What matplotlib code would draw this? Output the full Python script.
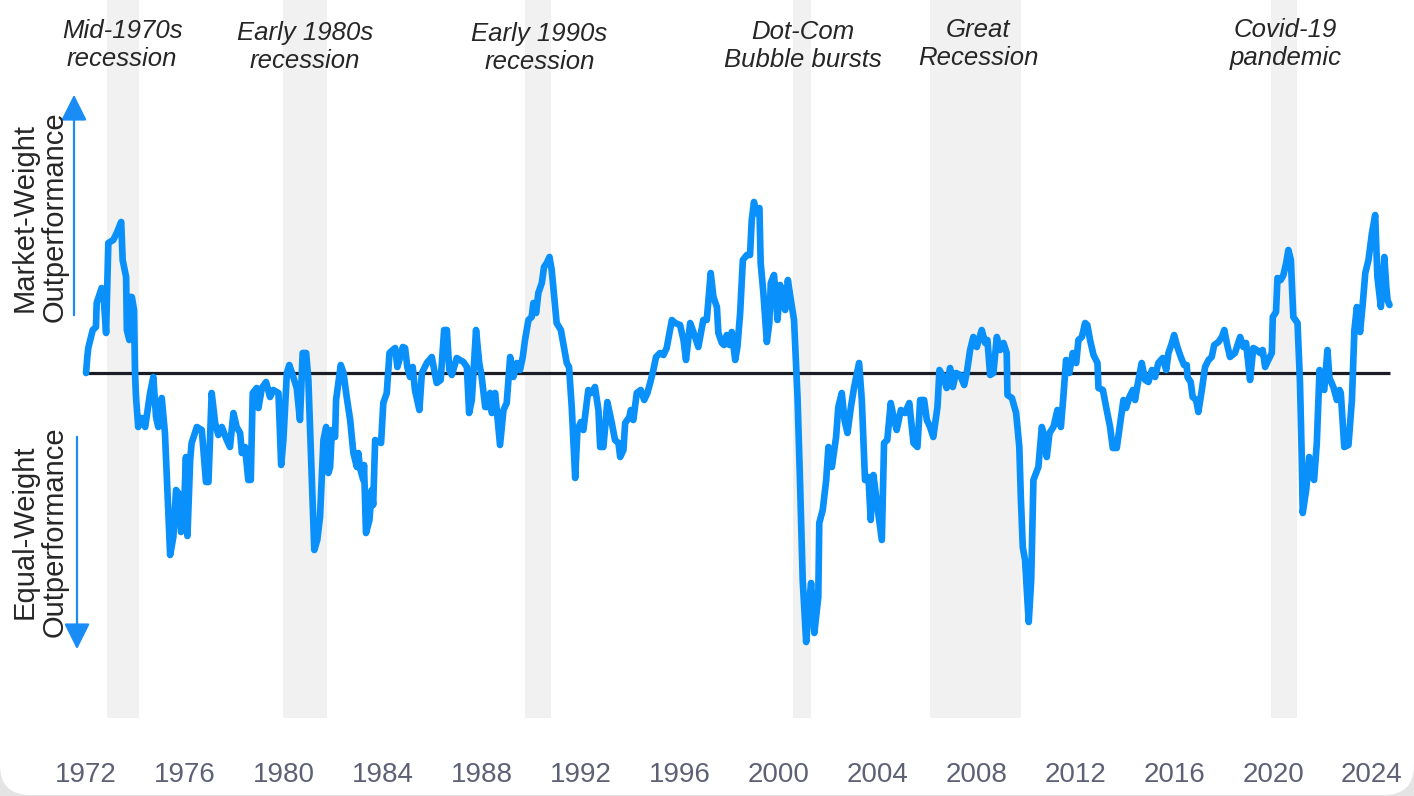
import matplotlib
matplotlib.use("Agg")
import matplotlib.pyplot as plt
from matplotlib.patches import FancyBboxPatch, FancyArrowPatch
from matplotlib.transforms import IdentityTransform

plt.rcParams['font.family'] = ['Liberation Sans', 'DejaVu Sans']

# relative performance, market-weight vs equal-weight (decimal year, value)
years = [
    1972.00, 1972.05, 1972.09, 1972.27, 1972.40, 1972.43, 1972.63, 1972.70, 1972.81, 1972.90,
    1973.10, 1973.24, 1973.42, 1973.48, 1973.62, 1973.65, 1973.75, 1973.78, 1973.85, 1973.94,
    1973.98, 1974.02, 1974.11, 1974.25, 1974.39, 1974.59, 1974.72, 1974.83, 1974.92, 1975.06,
    1975.19, 1975.40, 1975.53, 1975.64, 1975.73, 1975.84, 1975.93, 1976.04, 1976.10, 1976.21,
    1976.27, 1976.48, 1976.68, 1976.85, 1976.95, 1977.08, 1977.22, 1977.35, 1977.49, 1977.69,
    1977.82, 1977.96, 1978.09, 1978.23, 1978.30, 1978.43, 1978.56, 1978.66, 1978.74, 1978.90,
    1978.97, 1979.11, 1979.28, 1979.44, 1979.57, 1979.78, 1979.89, 1979.98, 1980.12, 1980.22,
    1980.38, 1980.52, 1980.65, 1980.76, 1980.90, 1980.99, 1981.13, 1981.23, 1981.35, 1981.46,
    1981.60, 1981.71, 1981.80, 1981.87, 1981.94, 1982.07, 1982.11, 1982.30, 1982.41, 1982.54,
    1982.68, 1982.81, 1982.95, 1983.01, 1983.08, 1983.21, 1983.24, 1983.32, 1983.46, 1983.55,
    1983.61, 1983.69, 1983.93, 1984.02, 1984.16, 1984.27, 1984.40, 1984.50, 1984.59, 1984.70,
    1984.81, 1984.90, 1984.99, 1985.10, 1985.21, 1985.30, 1985.48, 1985.58, 1985.78, 1985.98,
    1986.18, 1986.34, 1986.48, 1986.59, 1986.69, 1986.79, 1986.85, 1986.99, 1987.12, 1987.26,
    1987.40, 1987.49, 1987.60, 1987.77, 1987.90, 1988.00, 1988.14, 1988.23, 1988.34, 1988.41,
    1988.54, 1988.61, 1988.74, 1988.88, 1989.01, 1989.15, 1989.28, 1989.42, 1989.55, 1989.66,
    1989.75, 1989.89, 1990.02, 1990.09, 1990.20, 1990.29, 1990.43, 1990.52, 1990.63, 1990.74,
    1990.83, 1991.03, 1991.20, 1991.44, 1991.53, 1991.64, 1991.78, 1991.87, 1992.01, 1992.11,
    1992.31, 1992.45, 1992.58, 1992.72, 1992.79, 1992.92, 1993.08, 1993.26, 1993.39, 1993.53,
    1993.60, 1993.73, 1993.80, 1993.97, 1994.03, 1994.13, 1994.27, 1994.43, 1994.57, 1994.70,
    1994.81, 1994.94, 1995.05, 1995.21, 1995.35, 1995.48, 1995.69, 1995.82, 1996.02, 1996.16,
    1996.26, 1996.43, 1996.63, 1996.76, 1996.96, 1997.10, 1997.26, 1997.37, 1997.51, 1997.57,
    1997.71, 1997.80, 1997.91, 1998.02, 1998.11, 1998.25, 1998.34, 1998.45, 1998.56, 1998.72,
    1998.85, 1998.92, 1999.01, 1999.09, 1999.23, 1999.28, 1999.39, 1999.53, 1999.63, 1999.69,
    1999.82, 1999.96, 2000.07, 2000.17, 2000.27, 2000.38, 2000.50, 2000.63, 2000.77, 2000.87,
    2000.98, 2001.12, 2001.21, 2001.32, 2001.45, 2001.61, 2001.65, 2001.79, 2001.93, 2002.02,
    2002.16, 2002.33, 2002.42, 2002.56, 2002.67, 2002.79, 2002.93, 2003.06, 2003.26, 2003.37,
    2003.50, 2003.64, 2003.73, 2003.84, 2003.95, 2004.18, 2004.27, 2004.40, 2004.54, 2004.68,
    2004.78, 2004.95, 2005.12, 2005.29, 2005.46, 2005.62, 2005.73, 2005.89, 2006.00, 2006.13,
    2006.26, 2006.43, 2006.51, 2006.67, 2006.80, 2006.94, 2007.05, 2007.18, 2007.35, 2007.51,
    2007.62, 2007.75, 2007.88, 2008.02, 2008.22, 2008.36, 2008.45, 2008.56, 2008.69, 2008.83,
    2008.96, 2009.10, 2009.23, 2009.26, 2009.44, 2009.61, 2009.74, 2009.80, 2009.88, 2009.97,
    2010.12, 2010.22, 2010.31, 2010.42, 2010.51, 2010.65, 2010.71, 2010.85, 2010.96, 2011.12,
    2011.28, 2011.42, 2011.52, 2011.63, 2011.76, 2011.90, 2012.04, 2012.13, 2012.27, 2012.40,
    2012.49, 2012.60, 2012.74, 2012.90, 2012.94, 2013.12, 2013.25, 2013.41, 2013.52, 2013.68,
    2013.82, 2013.95, 2014.06, 2014.19, 2014.33, 2014.42, 2014.52, 2014.69, 2014.83, 2014.96,
    2015.10, 2015.23, 2015.36, 2015.54, 2015.68, 2015.77, 2015.91, 2016.00, 2016.13, 2016.27,
    2016.40, 2016.51, 2016.54, 2016.67, 2016.75, 2016.89, 2016.98, 2017.12, 2017.25, 2017.39,
    2017.52, 2017.62, 2017.79, 2017.93, 2018.03, 2018.13, 2018.26, 2018.46, 2018.67, 2018.80,
    2018.91, 2019.07, 2019.20, 2019.34, 2019.47, 2019.58, 2019.68, 2019.81, 2019.95, 2019.99,
    2020.12, 2020.18, 2020.31, 2020.42, 2020.53, 2020.62, 2020.72, 2020.82, 2020.99, 2021.09,
    2021.16, 2021.20, 2021.34, 2021.46, 2021.59, 2021.66, 2021.77, 2021.88, 2022.01, 2022.07,
    2022.20, 2022.28, 2022.44, 2022.58, 2022.69, 2022.74, 2022.88, 2023.05, 2023.19, 2023.29,
    2023.39, 2023.52, 2023.63, 2023.73, 2023.86, 2024.00, 2024.13, 2024.22, 2024.36, 2024.50,
    2024.58, 2024.63, 2024.71,
]
values = [
    0.0, 1.6, 2.5, 4.3, 4.6, 7.0, 8.5, 8.0, 4.0, 13.0,
    13.3, 14.0, 15.1, 11.3, 9.6, 4.3, 3.3, 7.6, 7.6, 6.3,
    0.0, -2.4, -5.4, -4.5, -5.4, -2.0, -0.4, -4.4, -5.4, -2.5,
    -6.0, -18.2, -16.4, -11.7, -12.0, -15.9, -15.7, -8.4, -16.3, -8.7,
    -7.0, -5.4, -5.7, -10.9, -10.9, -2.0, -5.0, -6.2, -5.4, -6.7,
    -7.4, -4.0, -5.4, -6.0, -8.0, -7.4, -10.7, -10.7, -2.0, -1.5,
    -3.5, -1.5, -0.9, -2.4, -1.7, -2.0, -9.2, -6.7, 0.0, 0.8,
    -0.4, -1.5, -4.7, 2.0, 2.0, -0.7, -10.7, -17.7, -16.7, -14.4,
    -6.7, -5.4, -10.0, -9.4, -5.7, -6.4, -2.7, 0.8, 0.0, -2.4,
    -4.7, -8.0, -9.4, -8.0, -9.5, -10.7, -9.2, -16.0, -14.7, -11.7,
    -13.2, -6.7, -7.0, -3.0, -2.0, 2.0, 2.3, 2.5, 0.6, 1.6,
    2.6, 2.5, 0.6, -0.4, 0.6, -1.7, -3.7, 0.0, 1.0, 1.6,
    -1.0, -0.7, 4.3, 4.3, 0.3, -0.2, 0.3, 1.5, 1.3, 1.1,
    0.6, -4.0, -2.7, 4.3, 1.0, -0.4, -3.4, -3.4, -2.0, -4.0,
    -2.0, -3.7, -7.2, -3.7, -3.0, 1.6, -0.4, 1.0, 0.3, 1.6,
    3.3, 5.3, 5.6, 7.0, 6.0, 8.0, 9.0, 10.6, 11.0, 11.6,
    10.3, 5.0, 4.3, 1.0, 0.6, -3.4, -10.5, -5.7, -4.9, -5.7,
    -1.7, -2.0, -1.4, -3.7, -7.4, -7.4, -2.9, -5.0, -6.7, -7.0,
    -8.4, -7.7, -5.0, -4.4, -3.7, -4.7, -2.0, -1.7, -2.7, -2.0,
    -1.0, 0.3, 1.6, 2.0, 1.8, 2.5, 5.3, 5.0, 4.8, 3.3,
    1.3, 5.0, 3.6, 2.6, 5.3, 5.3, 10.0, 7.6, 6.6, 4.0,
    3.0, 2.8, 3.8, 2.8, 4.1, 1.3, 2.6, 6.0, 11.3, 11.8,
    11.8, 15.3, 17.1, 16.0, 16.5, 11.0, 8.0, 3.1, 5.0, 9.0,
    9.8, 5.3, 8.8, 7.6, 6.3, 9.3, 7.3, 5.3, -2.4, -10.7,
    -20.7, -26.9, -23.7, -21.0, -26.0, -22.4, -15.0, -13.7, -10.7, -7.4,
    -9.4, -6.4, -3.4, -2.0, -4.7, -6.0, -3.4, -1.4, 1.0, -2.7,
    -10.7, -10.4, -14.7, -10.2, -12.4, -16.7, -7.0, -6.7, -3.0, -4.7,
    -5.7, -3.7, -4.0, -3.0, -7.0, -7.4, -2.7, -2.7, -4.7, -5.4,
    -6.4, -3.4, 0.3, -0.4, -1.5, 0.5, -1.4, 0.0, -0.2, -1.2,
    0.1, 2.3, 3.6, 2.6, 4.3, 3.0, 3.3, -0.2, 0.0, 3.6,
    2.3, 3.0, 2.0, -2.2, -2.5, -4.0, -7.4, -12.4, -17.4, -18.7,
    -24.9, -20.7, -10.7, -10.0, -9.4, -5.4, -6.0, -8.4, -6.0, -5.4,
    -3.7, -5.4, -2.4, 1.3, 0.0, 2.0, 1.0, 3.3, 3.6, 5.0,
    4.8, 3.3, 1.8, 1.0, -1.5, -1.7, -3.4, -5.4, -7.5, -7.5,
    -5.0, -2.7, -3.5, -2.4, -1.7, -2.7, -1.2, 1.0, -0.7, -0.9,
    0.3, -0.4, 1.0, 1.5, 0.3, 2.0, 3.0, 3.8, 2.6, 1.6,
    0.8, 0.8, -0.4, -0.9, -2.4, -2.7, -3.9, -1.7, 0.6, 1.3,
    1.6, 2.8, 3.1, 3.6, 4.3, 3.0, 1.6, 2.0, 3.6, 2.6,
    3.0, -0.7, 2.5, 2.3, 2.0, 2.3, 0.6, 1.3, 2.0, 5.6,
    6.1, 9.5, 9.3, 9.8, 11.0, 12.3, 11.3, 5.6, 5.0, -1.0,
    -8.4, -14.0, -11.7, -8.4, -10.4, -10.7, -7.0, 0.3, -1.4, -1.7,
    2.3, -0.5, -1.4, -2.7, -1.7, -2.0, -7.4, -7.2, -2.7, 4.3,
    6.6, 4.1, 7.0, 10.0, 11.3, 14.0, 15.8, 9.6, 6.6, 11.6,
    8.6, 7.3, 6.8,
]

recession_start = [1972.85, 1979.98, 1989.75, 2000.58, 2006.13, 2019.92]
recession_end = [1974.14, 1981.73, 1990.80, 2001.31, 2009.81, 2020.96]
recession_labels = ["Mid-1970s\nrecession", "Early 1980s\nrecession", "Early 1990s\nrecession",
                    "Dot-Com\nBubble bursts", "Great\nRecession", "Covid-19\npandemic"]
label_x = [1973.46, 1980.84, 1990.34, 2000.98, 2008.07, 2020.49]
label_y = [32.8, 32.6, 32.5, 32.7, 32.9, 32.9]

tick_years = list(range(1972, 2025, 4))

W, H = 1414, 796
fig = plt.figure(figsize=(W / 100, H / 100), dpi=100, facecolor='#e4e4e4')

# white card, only the bottom corners show rounding
card = FancyBboxPatch((0, 1), W, H + 40, boxstyle="round,pad=0,rounding_size=30",
                      transform=IdentityTransform(), fc='white', ec='none', zorder=-10)
fig.patches.append(card)

ax = fig.add_axes([0, 78 / H, 1, 718 / H])
ax.patch.set_visible(False)
ax.set_xlim(1968.52, 2025.70)
ax.set_ylim(-34.5, 37.3)

for s, e in zip(recession_start, recession_end):
    ax.axvspan(s, e, color='#f0f1f0', lw=0, zorder=1)

ax.hlines(0, years[0], years[-1], color='#1c1c24', lw=2.3, zorder=2)
ax.plot(years, values, color='#0990fa', lw=4.8, solid_joinstyle='round',
        solid_capstyle='round', zorder=3)

for x, y, lab in zip(label_x, label_y, recession_labels):
    ax.text(x, y, lab, ha='center', va='center', fontsize=18.5, style='italic',
            color='#262626', linespacing=1.2, zorder=4)

for sp in ax.spines.values():
    sp.set_visible(False)
ax.set_yticks([])
ax.set_xticks(tick_years)
ax.set_xticklabels([str(y) for y in tick_years])
ax.tick_params(axis='x', length=0, pad=32, labelsize=20, labelcolor='#5e6176')

# y-direction captions with arrows
fig.text(40 / W, 1 - 217 / H, "Market-Weight\nOutperformance", rotation=90, ha='center',
         va='center', fontsize=21, color='#262626', linespacing=1.1)
fig.text(40 / W, 1 - 532 / H, "Equal-Weight\nOutperformance", rotation=90, ha='center',
         va='center', fontsize=21, color='#262626', linespacing=1.1)
fig.patches.append(FancyArrowPatch(
    (74 / W, 1 - 318 / H), (74 / W, 1 - 92 / H), transform=fig.transFigure,
    arrowstyle='-|>,head_length=8,head_width=4', color='#1a8cf5', lw=1.6, mutation_scale=2))
fig.patches.append(FancyArrowPatch(
    (77 / W, 1 - 434 / H), (77 / W, 1 - 652 / H), transform=fig.transFigure,
    arrowstyle='-|>,head_length=8,head_width=4', color='#1a8cf5', lw=1.6, mutation_scale=2))

fig.savefig("out.png", dpi=100, facecolor=fig.get_facecolor())
